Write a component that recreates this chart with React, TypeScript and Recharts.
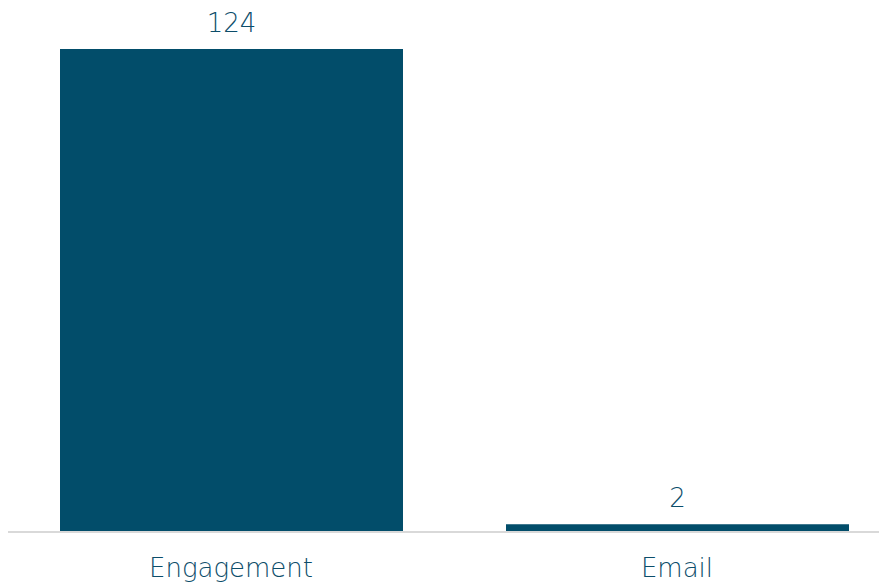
import React from 'react';
import { BarChart, Bar, XAxis, YAxis, LabelList } from 'recharts';

const categories = ['Engagement', 'Email'];
const counts = [124, 2];

const chartData = categories.map((name, i) => ({ name, count: counts[i] }));

const TEXT = '#0c4d6a';
const BAR = '#024d6a';
const FONT = '"DejaVu Sans", sans-serif';

const CategoryTick = ({ x, y, payload }: any) => (
  <text x={x} y={y + 37} textAnchor="middle" fill={TEXT} fontSize={26} fontFamily={FONT} fontWeight={300}>
    {payload.value}
  </text>
);

const ValueLabel = ({ x, y, width, value }: any) => (
  <text x={x + width / 2} y={y - 17} textAnchor="middle" fill={TEXT} fontSize={26} fontFamily={FONT} fontWeight={300}>
    {value}
  </text>
);

export default function App() {
  return (
    <div style={{ width: 879, height: 577, overflow: 'hidden' }}>
      <BarChart
        width={892}
        height={577}
        data={chartData}
        margin={{ top: 41, right: 0, left: 0, bottom: 0 }}
      >
        <XAxis
          dataKey="name"
          axisLine={{ stroke: '#d9d9d9', strokeWidth: 2 }}
          tickLine={false}
          tick={<CategoryTick />}
          height={53}
          interval={0}
        />
        <YAxis hide domain={[0, 124]} />
        <Bar dataKey="count" fill={BAR} barSize={343} isAnimationActive={false}>
          <LabelList dataKey="count" content={<ValueLabel />} />
        </Bar>
      </BarChart>
    </div>
  );
}
